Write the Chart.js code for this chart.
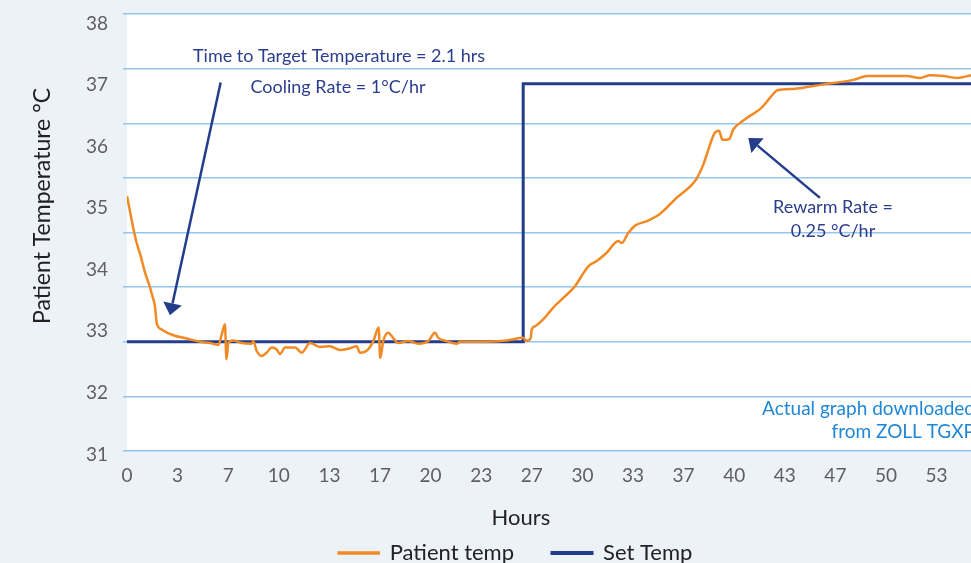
<!DOCTYPE html>
<html lang="en">
<head>
    <meta charset="UTF-8">
    <title>Patient Temperature</title>
    <style>
        html, body { margin: 0; padding: 0; background: #edf2f9; }
        .chart-box { width: 971px; height: 563px; }
    </style>
</head>
<body>
<div class="chart-box">
    <canvas id="tempChart"></canvas>
</div>

<script src="https://cdn.jsdelivr.net/npm/chart.js"></script>
<script>
    // Patient temperature trace (hours, °C)
    const patientHours = [0, 0.48, 0.64, 0.90, 1.19, 1.52, 1.67, 1.84, 1.96, 2.28, 3.05, 3.93, 4.81, 5.47, 6.02,
        6.24, 6.45, 6.55, 6.68, 7.00, 7.56, 8.21, 8.32, 8.54, 8.87, 9.20, 9.53, 9.86, 10.08, 10.41, 11.07, 11.51,
        12.06, 12.71, 13.37, 14.03, 14.69, 15.13, 15.35, 15.79, 16.23, 16.58, 16.68, 16.88, 17.21, 17.43, 17.87,
        18.53, 19.19, 19.85, 20.29, 20.51, 21.06, 21.72, 21.94, 23.47, 25.01, 26.10, 26.33, 26.44, 26.60, 26.66,
        26.88, 27.43, 28.08, 28.74, 29.51, 29.95, 30.39, 30.94, 31.60, 32.37, 32.59, 33.03, 33.47, 34.24, 35.10,
        36.20, 37.50, 37.97, 38.19, 38.70, 39.00, 39.23, 39.66, 39.94, 40.60, 41.81, 42.42, 42.85, 43.89, 45.87,
        47.85, 48.78, 51.36, 52.24, 52.90, 53.78, 54.65, 55.60];
    const patientTemps = [35.26, 34.69, 34.53, 34.33, 34.07, 33.84, 33.71, 33.55, 33.29, 33.19, 33.10, 33.05, 33.00, 32.98, 32.95,
        33.11, 33.27, 32.73, 32.98, 33.02, 32.98, 32.97, 33.01, 32.86, 32.78, 32.83, 32.91, 32.88, 32.81, 32.91, 32.91, 32.83,
        32.98, 32.92, 32.93, 32.87, 32.90, 32.93, 32.83, 32.86, 33.01, 33.22, 32.75, 33.01, 33.14, 33.09, 32.98,
        33.01, 32.97, 33.01, 33.14, 33.06, 33.01, 32.97, 33.00, 33.00, 33.02, 33.06, 33.01, 33.02, 33.06, 33.19,
        33.24, 33.35, 33.53, 33.68, 33.86, 34.02, 34.17, 34.25, 34.38, 34.56, 34.53, 34.69, 34.80, 34.87, 34.98,
        35.23, 35.52, 35.75, 35.90, 36.23, 36.27, 36.13, 36.14, 36.29, 36.43, 36.63, 36.80, 36.90, 36.92, 36.99,
        37.06, 37.12, 37.12, 37.09, 37.13, 37.12, 37.09, 37.13];

    // Set temperature (step)
    const setHours = [0, 26.1, 26.1, 55.6];
    const setTemps = [33, 33, 37, 37];

    // Axis labels
    const xTickLabels = ['0', '3', '7', '10', '13', '17', '20', '23', '27', '30', '33', '37', '40', '43', '47', '50', '53'];
    const yTickLabels = [31, 32, 33, 34, 35, 36, 37, 38];

    // Ranges
    const xMax = 55.6;
    const yMin = 31.306, yMax = 38.081;      // data scale (9 grid lines)
    const yLabelMin = 31.057, yLabelMax = 38.154;

    // Callouts, in chart coordinates [hours, °C]
    const notes = [
        { text: 'Time to Target Temperature = 2.1 hrs', at: [13.97, 37.43], align: 'center', color: '#2b3d8d', size: 18 },
        { text: 'Cooling Rate = 1°C/hr', at: [13.9, 36.95], align: 'center', color: '#2b3d8d', size: 18 },
        { text: 'Rewarm Rate =', at: [46.51, 35.09], align: 'center', color: '#2b3d8d', size: 18 },
        { text: '0.25 °C/hr', at: [46.51, 34.72], align: 'center', color: '#2b3d8d', size: 18 },
        { text: 'Actual graph downloaded', at: [55.86, 31.96], align: 'right', color: '#1f86d6', size: 19 },
        { text: 'from ZOLL TGXP', at: [55.86, 31.6], align: 'right', color: '#1f86d6', size: 19 }
    ];
    const arrows = [
        { from: [6.17, 37.02], to: [2.83, 33.41] },
        { from: [45.65, 35.23], to: [40.93, 36.16] }
    ];

    const FONT = 'Lato, "Open Sans", sans-serif';
    const gridColor = 'rgba(120, 185, 232, 0.8)';
    const navy = '#233d8b';

    const noPad = s => { s.paddingTop = 0; s.paddingBottom = 0; s.paddingLeft = 0; s.paddingRight = 0; };

    const notePlugin = {
        id: 'notes',
        afterLayout(chart) {
            // legend sits a little right of centre in the original
            if (chart.legend) chart.legend.left += 60;
        },
        beforeDraw(chart) {
            const { ctx, chartArea: a } = chart;
            ctx.save();
            ctx.fillStyle = '#edf2f9';
            ctx.fillRect(0, 0, chart.width, chart.height);
            ctx.fillStyle = '#ffffff';
            ctx.fillRect(a.left, a.top, a.right - a.left, a.bottom - a.top);
            ctx.restore();
        },
        afterDatasetsDraw(chart) {
            const { ctx } = chart;
            const xs = chart.scales.x, ys = chart.scales.y;
            ctx.save();
            ctx.textBaseline = 'middle';
            notes.forEach(n => {
                ctx.font = n.size + 'px ' + FONT;
                ctx.fillStyle = n.color;
                ctx.textAlign = n.align;
                ctx.fillText(n.text, xs.getPixelForValue(n.at[0]), ys.getPixelForValue(n.at[1]));
            });
            ctx.strokeStyle = navy;
            ctx.fillStyle = navy;
            ctx.lineWidth = 2.5;
            arrows.forEach(ar => {
                const x1 = xs.getPixelForValue(ar.from[0]), y1 = ys.getPixelForValue(ar.from[1]);
                const x2 = xs.getPixelForValue(ar.to[0]), y2 = ys.getPixelForValue(ar.to[1]);
                const ang = Math.atan2(y2 - y1, x2 - x1);
                const head = 12, half = 9.5;
                const bx = x2 - head * Math.cos(ang), by = y2 - head * Math.sin(ang);
                ctx.beginPath();
                ctx.moveTo(x1, y1);
                ctx.lineTo(bx, by);
                ctx.stroke();
                ctx.beginPath();
                ctx.moveTo(x2, y2);
                ctx.lineTo(bx + half * Math.sin(ang), by - half * Math.cos(ang));
                ctx.lineTo(bx - half * Math.sin(ang), by + half * Math.cos(ang));
                ctx.closePath();
                ctx.fill();
            });
            ctx.restore();
        }
    };

    const ctx = document.getElementById('tempChart').getContext('2d');
    new Chart(ctx, {
        type: 'line',
        data: {
            datasets: [{
                label: 'Patient temp',
                data: patientHours.map((h, i) => ({ x: h, y: patientTemps[i] })),
                borderColor: '#f18a24',
                backgroundColor: '#f18a24',
                borderWidth: 2.5,
                pointRadius: 0,
                cubicInterpolationMode: 'monotone'
            }, {
                label: 'Set Temp',
                data: setHours.map((h, i) => ({ x: h, y: setTemps[i] })),
                borderColor: navy,
                backgroundColor: navy,
                borderWidth: 3,
                pointRadius: 0
            }]
        },
        options: {
            responsive: true,
            maintainAspectRatio: false,
            animation: false,
            layout: { padding: { top: 14, left: 0, right: 0, bottom: -11 } },
            plugins: {
                legend: {
                    position: 'bottom',
                    labels: {
                        boxWidth: 40,
                        boxHeight: 1,
                        padding: 38,
                        color: '#222',
                        font: { family: FONT, size: 22 }
                    }
                },
                tooltip: { enabled: false }
            },
            scales: {
                x: {
                    type: 'linear',
                    min: 0,
                    max: xMax,
                    afterBuildTicks: s => { s.ticks = xTickLabels.map((_, i) => ({ value: i * 10 / 3 })); },
                    afterFit: s => { s.height = 53; noPad(s); },
                    grid: { display: false, drawTicks: false },
                    border: { display: false },
                    ticks: {
                        autoSkip: false,
                        maxRotation: 0,
                        padding: 13,
                        color: '#5f5f5f',
                        font: { family: FONT, size: 19 },
                        callback: (v, i) => xTickLabels[i]
                    },
                    title: {
                        display: true,
                        text: 'Hours          ',
                        color: '#222',
                        font: { family: FONT, size: 22 },
                        padding: { top: 0, bottom: -27 }
                    }
                },
                y: {
                    type: 'linear',
                    position: 'left',
                    weight: 0,
                    min: yMin,
                    max: yMax,
                    afterBuildTicks: s => { s.ticks = Array.from({ length: 9 }, (_, i) => ({ value: yMin + i * (yMax - yMin) / 8 })); },
                    afterFit: s => { s.width = 4; noPad(s); },
                    grid: { color: gridColor, lineWidth: 1.5, drawTicks: true, tickLength: 4 },
                    border: { display: false },
                    ticks: { display: false }
                },
                yl: {
                    type: 'linear',
                    position: 'left',
                    weight: 1,
                    min: yLabelMin,
                    max: yLabelMax,
                    afterBuildTicks: s => { s.ticks = yTickLabels.map(v => ({ value: v })); },
                    afterFit: s => { s.width = 123; noPad(s); },
                    grid: { display: false, drawTicks: false },
                    border: { display: false },
                    ticks: {
                        padding: 15,
                        color: '#5f5f5f',
                        font: { family: FONT, size: 19 }
                    },
                    title: {
                        display: true,
                        text: '         Patient Temperature °C',
                        color: '#222',
                        font: { family: FONT, size: 23 },
                        padding: { top: 29, bottom: 0 }
                    }
                }
            }
        },
        plugins: [notePlugin]
    });
</script>
</body>
</html>
